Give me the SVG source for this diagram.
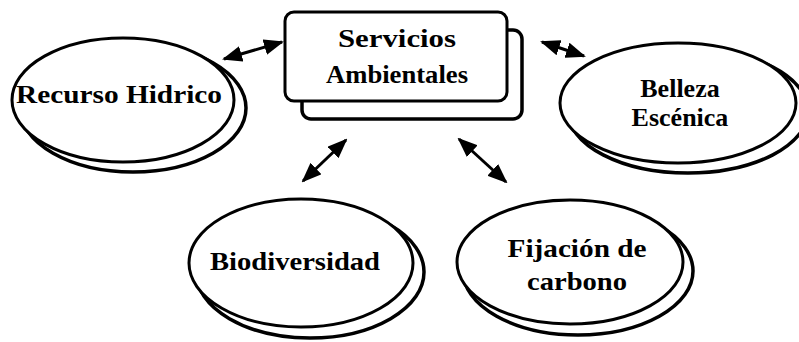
<svg xmlns="http://www.w3.org/2000/svg" width="799" height="342" viewBox="0 0 799 342">
<style>
.sh{fill:#fff;stroke:#000;stroke-width:3.5}
.fr{fill:#fff;stroke:#000;stroke-width:3}
.t{font-family:"Liberation Serif","Times New Roman",serif;font-weight:bold;font-size:26px;fill:#000;text-anchor:middle}
.c{stroke:#000;stroke-width:3;fill:none;marker-start:url(#ah);marker-end:url(#ah)}
</style>
<defs>
<marker id="ah" markerUnits="userSpaceOnUse" markerWidth="20" markerHeight="16" refX="18" refY="8" orient="auto-start-reverse" viewBox="0 0 20 16">
<path d="M0,0 L20,8 L0,16 Z" fill="#000"/>
</marker>
</defs>
<rect width="799" height="342" fill="#fff"/>
<g id="connectors">
<line class="c" x1="224" y1="59" x2="282" y2="42"/>
<line class="c" x1="542" y1="42" x2="584" y2="56"/>
<line class="c" x1="346" y1="140" x2="303" y2="181"/>
<line class="c" x1="459" y1="139" x2="506" y2="182"/>
</g>
<g id="servicios">
<rect class="sh" x="302" y="30" width="220" height="89" rx="9"/>
<rect class="fr" x="285" y="12" width="222" height="89" rx="9"/>
<text class="t" x="397" y="47" textLength="118" lengthAdjust="spacingAndGlyphs">Servicios</text>
<text class="t" x="397" y="83" textLength="142" lengthAdjust="spacingAndGlyphs">Ambientales</text>
</g>
<g id="recurso">
<ellipse class="sh" cx="133" cy="108" rx="113" ry="64"/>
<ellipse class="fr" cx="123" cy="100" rx="111" ry="62"/>
<text class="t" x="119" y="103" textLength="206" lengthAdjust="spacingAndGlyphs">Recurso Hidrico</text>
</g>
<g id="belleza">
<ellipse class="sh" cx="688" cy="111" rx="120" ry="62"/>
<ellipse class="fr" cx="678" cy="103" rx="118" ry="60"/>
<text class="t" x="680" y="97">Belleza</text>
<text class="t" x="680" y="126">Escénica</text>
</g>
<g id="biodiversidad">
<ellipse class="sh" cx="310" cy="272" rx="114" ry="66"/>
<ellipse class="fr" cx="301" cy="263" rx="112" ry="64"/>
<text class="t" x="295" y="270" textLength="170" lengthAdjust="spacingAndGlyphs">Biodiversidad</text>
</g>
<g id="fijacion">
<ellipse class="sh" cx="578" cy="271" rx="115" ry="64"/>
<ellipse class="fr" cx="570" cy="262" rx="113" ry="62"/>
<text class="t" x="577" y="257" textLength="139" lengthAdjust="spacingAndGlyphs">Fijación de</text>
<text class="t" x="577" y="290" textLength="100" lengthAdjust="spacingAndGlyphs">carbono</text>
</g>
</svg>
